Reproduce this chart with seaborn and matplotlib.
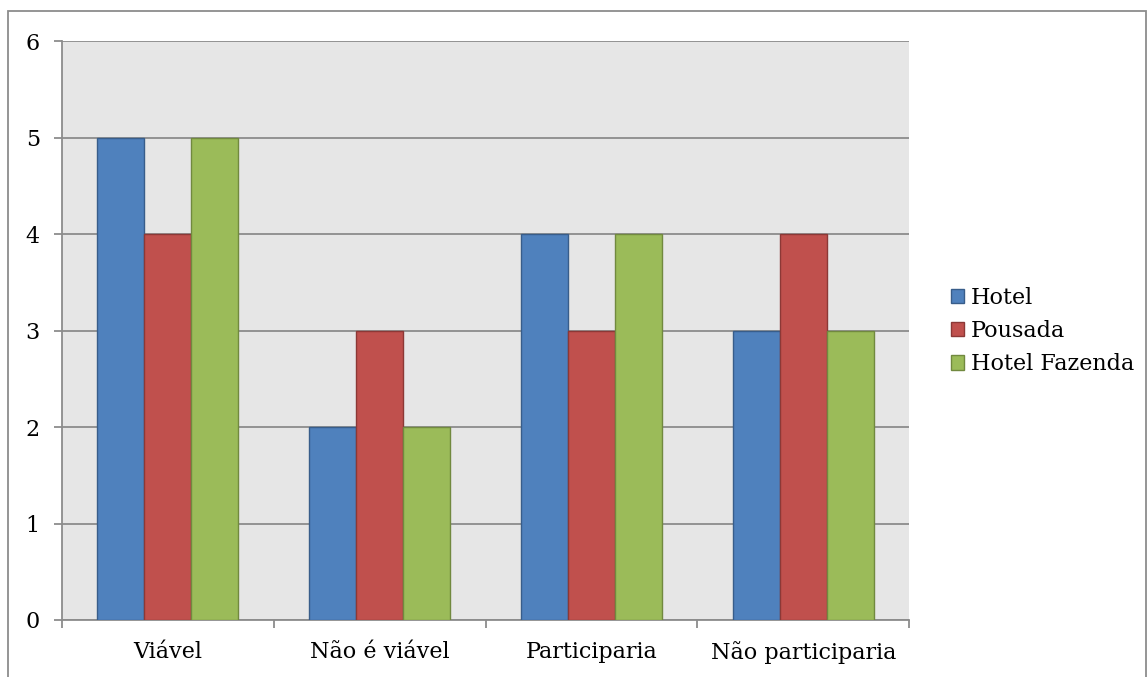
import matplotlib
matplotlib.use("Agg")
import matplotlib.pyplot as plt
from matplotlib.patches import Patch, Rectangle
import seaborn as sns
import pandas as pd

# Survey answers per lodging type
categories = ["Viável", "Não é viável", "Participaria", "Não participaria"]
series = ["Hotel", "Pousada", "Hotel Fazenda"]
hotel = [5, 2, 4, 3]
pousada = [4, 3, 3, 4]
hotel_fazenda = [5, 2, 4, 3]
y_ticks = [0, 1, 2, 3, 4, 5, 6]

fills = ["#4F81BD", "#C0504D", "#9BBB59"]
edges = ["#385D8A", "#8C3836", "#71893F"]

rows = []
for name, vals in zip(series, [hotel, pousada, hotel_fazenda]):
    for cat, v in zip(categories, vals):
        rows.append({"categoria": cat, "valor": v, "tipo": name})
df = pd.DataFrame(rows)

sns.set_theme(style="white")
plt.rcParams["font.family"] = ["DejaVu Serif", "Liberation Serif"]
plt.rcParams["text.color"] = "black"

FS = 16

fig = plt.figure(figsize=(11.48, 6.77), dpi=100)
ax = fig.add_axes([0.054, 0.0842, 0.738, 0.855])

sns.barplot(data=df, x="categoria", y="valor", hue="tipo",
            order=categories, hue_order=series, palette=fills,
            width=0.665, gap=0, saturation=1, legend=False, ax=ax,
            linewidth=1.0, zorder=3)

for cont, ec in zip(ax.containers, edges):
    for bar in cont:
        bar.set_edgecolor(ec)

ax.set_facecolor("#E6E6E6")
ax.set_xlim(-0.5, len(categories) - 0.5)
ax.set_ylim(0, 6)
ax.set_yticks(y_ticks)
ax.set_xlabel("")
ax.set_ylabel("")

ax.yaxis.grid(True, color="#8C8C8C", linewidth=1.3, zorder=1)
ax.set_axisbelow(True)

for side in ["top", "right"]:
    ax.spines[side].set_visible(False)
for side in ["left", "bottom"]:
    ax.spines[side].set_color("#8C8C8C")
    ax.spines[side].set_linewidth(1.3)

ax.tick_params(axis="y", which="major", left=True, length=5.5, width=1.3,
               color="#8C8C8C", labelsize=FS, pad=10.5, labelcolor="black")
ax.tick_params(axis="x", which="major", bottom=False, labelsize=FS,
               pad=9, labelcolor="black")
ax.set_xticks([i - 0.5 for i in range(len(categories) + 1)], minor=True)
ax.tick_params(axis="x", which="minor", bottom=True, length=6, width=1.3,
               color="#8C8C8C")

handles = [Patch(facecolor=f, edgecolor=e, linewidth=1.0)
           for f, e in zip(fills, edges)]
fig.legend(handles, series, loc="center left",
           bbox_to_anchor=(0.828, 0.511), frameon=False, fontsize=FS,
           handlelength=0.62, handleheight=0.62, handletextpad=0.3,
           labelspacing=0.5, borderpad=0, borderaxespad=0)

# Chart border
fig.add_artist(Rectangle((8 / 1148, -0.05), 1138 / 1148, 1.05 - 11 / 677,
                         transform=fig.transFigure, fill=False,
                         edgecolor="#8C8C8C", linewidth=1.3))

fig.savefig("out.png", dpi=100)
